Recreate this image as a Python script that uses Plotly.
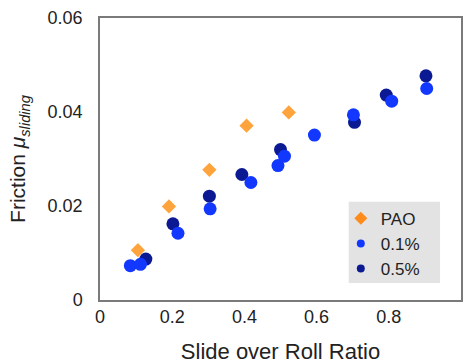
import plotly.graph_objects as go

# Friction vs slide-over-roll ratio for the base oil and two additive levels
pao_srr = [0.105, 0.191, 0.303, 0.406, 0.523]
pao_mu = [0.0106, 0.0199, 0.0277, 0.0371, 0.0399]

add01_srr = [0.084, 0.112, 0.216, 0.305, 0.418, 0.493, 0.511, 0.594, 0.702, 0.808, 0.905]
add01_mu = [0.0073, 0.0076, 0.0142, 0.0194, 0.0250, 0.0286, 0.0306, 0.0351, 0.0394, 0.0423, 0.0450]

add05_srr = [0.127, 0.202, 0.303, 0.393, 0.500, 0.705, 0.793, 0.903]
add05_mu = [0.0087, 0.0162, 0.0221, 0.0267, 0.0320, 0.0378, 0.0436, 0.0477]

x_ticks = [0, 0.2, 0.4, 0.6, 0.8, 1]
y_ticks = [0, 0.02, 0.04, 0.06]

ORANGE = "#ffa43c"
ORANGE_KEY = "#ff8c1a"
BLUE = "#1238ff"
NAVY = "#0b1a92"
FONT = "Liberation Sans, Arial, sans-serif"

fig = go.Figure()

# data markers (navy drawn first so the brighter blue sits on top)
fig.add_trace(go.Scatter(x=add05_srr, y=add05_mu, mode="markers", showlegend=False,
                         marker=dict(symbol="circle", size=13, color=NAVY)))
fig.add_trace(go.Scatter(x=add01_srr, y=add01_mu, mode="markers", showlegend=False,
                         marker=dict(symbol="circle", size=13, color=BLUE)))
fig.add_trace(go.Scatter(x=pao_srr, y=pao_mu, mode="markers", showlegend=False,
                         marker=dict(symbol="diamond", size=11, color=ORANGE)))

# legend keys with smaller symbols
fig.add_trace(go.Scatter(x=[None], y=[None], mode="markers", name="PAO",
                         marker=dict(symbol="diamond", size=10, color=ORANGE_KEY)))
fig.add_trace(go.Scatter(x=[None], y=[None], mode="markers", name="0.1%",
                         marker=dict(symbol="circle", size=8, color=BLUE)))
fig.add_trace(go.Scatter(x=[None], y=[None], mode="markers", name="0.5%",
                         marker=dict(symbol="circle", size=8, color=NAVY)))

# grey panel behind the legend
fig.add_shape(type="rect", xref="paper", yref="paper",
              x0=0.689, x1=0.942, y0=0.060, y1=0.348,
              fillcolor="#e3e3e3", line=dict(width=0), layer="below")

fig.update_layout(
    width=465, height=364,
    margin=dict(l=100, r=2, t=18, b=64),
    paper_bgcolor="white", plot_bgcolor="white",
    font=dict(family=FONT, color="#222222", size=18),
    legend=dict(x=0.667, y=0.352, xanchor="left", yanchor="top",
                bgcolor="rgba(0,0,0,0)", font=dict(size=17, color="#222222"),
                itemwidth=30, tracegroupgap=0,
                traceorder="normal"),
    xaxis=dict(range=[0, 1], tickvals=x_ticks, ticktext=[f"{v:g}" for v in x_ticks],
               showgrid=False, zeroline=False, showline=True, mirror=True,
               linecolor="#7a7a7a", linewidth=1.5, ticks="",
               tickfont=dict(size=18),
               title=dict(text="Slide over Roll Ratio", font=dict(size=22), standoff=19)),
    yaxis=dict(range=[0, 0.06], tickvals=y_ticks, ticktext=[f"{v:g}" for v in y_ticks],
               showgrid=False, zeroline=False, showline=True, mirror=True,
               linecolor="#7a7a7a", linewidth=1.5, ticks="",
               tickfont=dict(size=18), ticklabelstandoff=12,
               title=dict(text="Friction <i>μ</i><sub><i>sliding</i></sub>",
                          font=dict(size=21), standoff=16)),
)

fig.write_html("out.html")
